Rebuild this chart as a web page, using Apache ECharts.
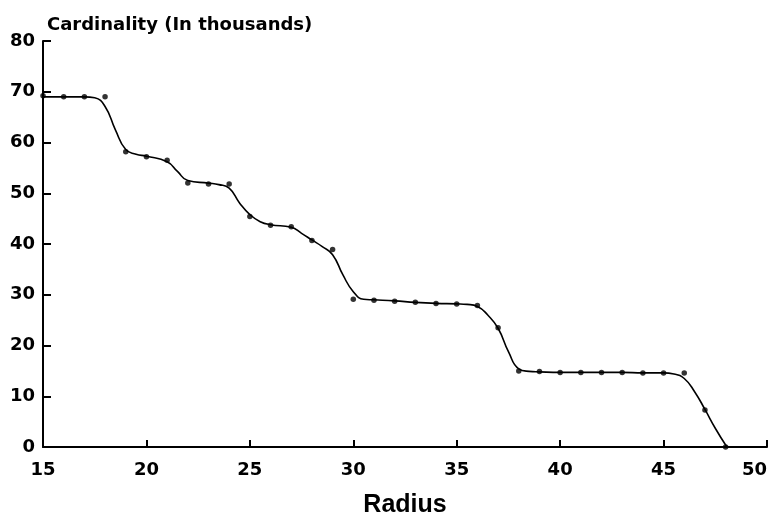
<!DOCTYPE html>
<html>
<head>
<meta charset="utf-8">
<script src="https://cdn.jsdelivr.net/npm/echarts@6/dist/echarts.min.js"></script>
<style>
html,body{margin:0;padding:0;background:#fff;}
#chart{width:772px;height:514px;}
</style>
</head>
<body>
<div id="chart"></div>
<script>
// Observed data points (radius, cardinality in thousands)
const radius = [15,16,17,18,19,20,21,22,23,24,25,26,27,28,29,30,31,32,33,34,35,36,37,38,39,40,41,42,43,44,45,46,47,48];
const cardinality = [69.2,69.0,69.0,69.0,58.2,57.2,56.5,52.0,51.8,51.8,45.4,43.7,43.4,40.7,38.9,29.1,28.9,28.7,28.5,28.3,28.2,27.9,23.5,15.0,14.9,14.7,14.7,14.7,14.7,14.6,14.6,14.6,7.3,0.0];

// Fitted smooth curve
const curveX = [15,16,17,17.5,18,18.5,19,19.5,20,21,21.5,22,23,23.5,24,24.5,25,25.5,26,27,27.5,28,28.5,29,29.5,30,30.5,31,32,33,34,35,35.5,36,36.5,37,37.5,38,38.5,39,40,41,42,43,44,45,45.5,46,46.5,47,47.5,48,48.1];
const curveY = [69.0,69.0,69.0,68.8,67.1,62.5,58.6,57.7,57.3,56.2,54.3,52.5,52.0,51.7,51.0,48.1,45.8,44.4,43.8,43.3,42.1,40.8,39.5,37.9,33.9,30.6,29.1,29.0,28.8,28.5,28.3,28.2,28.1,27.7,26.0,23.4,18.8,15.4,14.9,14.8,14.7,14.7,14.7,14.7,14.6,14.6,14.4,13.5,10.9,7.4,3.7,0.4,0.0];

const xTicks = [15,20,25,30,35,40,45,50];
const yTicks = [0,10,20,30,40,50,60,70,80];

const chart = echarts.init(document.getElementById('chart'), null, {renderer:'canvas'});
const tickFont = {color:'#000', fontFamily:'DejaVu Sans', fontWeight:'bold', fontSize:18};
chart.setOption({
  animation:false,
  backgroundColor:'#fff',
  title:{
    text:'Cardinality (In thousands)',
    left:42, top:11,
    textStyle:{color:'#000', fontFamily:'DejaVu Sans', fontWeight:'bold', fontSize:18}
  },
  grid:{left:43, right:5, top:41, bottom:67, containLabel:false, outerBoundsMode:'none'},
  xAxis:{
    type:'value', min:xTicks[0], max:xTicks[xTicks.length-1], interval:5,
    name:'Radius', nameLocation:'middle', nameGap:46,
    nameTextStyle:{color:'#000', fontFamily:'Liberation Sans', fontWeight:'bold', fontSize:25},
    axisLine:{show:true, onZero:false, lineStyle:{color:'#000', width:2}},
    axisTick:{show:true, inside:true, length:7, lineStyle:{color:'#000', width:2}},
    axisLabel:Object.assign({margin:14, alignMaxLabel:'right'}, tickFont),
    splitLine:{show:false}
  },
  yAxis:{
    type:'value', min:yTicks[0], max:yTicks[yTicks.length-1], interval:10,
    axisLine:{show:true, lineStyle:{color:'#000', width:2}},
    axisTick:{show:true, inside:true, length:8, lineStyle:{color:'#000', width:2}},
    axisLabel:Object.assign({margin:8}, tickFont),
    splitLine:{show:false}
  },
  series:[
    {
      type:'line',
      data:curveX.map((x,i)=>[x,curveY[i]]),
      smooth:0.5,
      showSymbol:false,
      lineStyle:{color:'#000', width:1.6},
      z:2
    },
    {
      type:'scatter',
      data:radius.map((x,i)=>[x,cardinality[i]]),
      symbol:'circle',
      symbolSize:5.5,
      itemStyle:{color:'#000'},
      z:3
    }
  ]
});
</script>
</body>
</html>
